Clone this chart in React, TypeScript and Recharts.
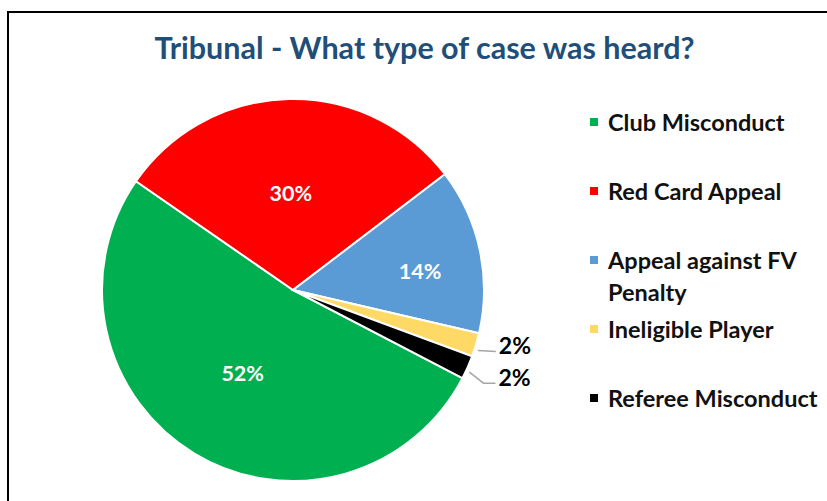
import React from 'react';
import { PieChart, Pie, Cell, Legend } from 'recharts';

const categories = ['Club Misconduct', 'Red Card Appeal', 'Appeal against FV Penalty', 'Ineligible Player', 'Referee Misconduct'];
const caseCounts = [26, 15, 7, 1, 1];
const sliceColors = ['#00B050', '#FF0000', '#5B9BD5', '#FFD966', '#000000'];
const titleText = 'Tribunal - What type of case was heard?';

const data = categories.map((name, i) => ({ name, value: caseCounts[i] }));

const RADIAN = Math.PI / 180;
const FONT = 'Lato, "Open Sans", sans-serif';

const renderLabel = (p: any) => {
  const { cx, cy, midAngle, outerRadius, percent, index } = p;
  const txt = `${Math.round(percent * 100)}%`;
  const c = Math.cos(-midAngle * RADIAN);
  const s = Math.sin(-midAngle * RADIAN);
  if (percent > 0.05) {
    const f = index === 2 ? 0.68 : 0.51;
    const x = cx + outerRadius * f * c;
    const y = cy + outerRadius * f * s + (index === 2 ? 8 : 0);
    return (
      <text x={x} y={y} fill="#fff" textAnchor="middle" dominantBaseline="central" fontFamily={FONT} fontWeight={700} fontSize={21.5}>
        {txt}
      </text>
    );
  }
  const x0 = cx + (outerRadius + 2) * c;
  const y0 = cy + (outerRadius + 2) * s;
  let pts: [number, number][];
  if (index === 3) {
    pts = [[x0, y0 + 5], [x0 + 18, y0 + 6]];
  } else {
    pts = [[x0, y0 + 4], [x0 + 14, y0 + 15], [x0 + 26, y0 + 15]];
  }
  const last = pts[pts.length - 1];
  return (
    <g>
      <polyline points={pts.map((q) => q.join(',')).join(' ')} fill="none" stroke="#A6A6A6" strokeWidth={1.5} />
      <text x={last[0] + 3} y={last[1] - 6} fill="#000" textAnchor="start" dominantBaseline="central" fontFamily={FONT} fontWeight={700} fontSize={23}>
        {txt}
      </text>
    </g>
  );
};

const renderLegend = () => (
  <div style={{ fontFamily: FONT }}>
    {categories.map((name, i) => (
      <div key={name} style={{ position: 'relative', height: 69 }}>
        <div style={{ position: 'absolute', left: 0, top: 12, width: 8, height: 8, background: sliceColors[i] }} />
        <div style={{ position: 'absolute', left: 18, top: 0, width: 222, fontSize: 23.5, fontWeight: 700, lineHeight: '32px', color: '#111', whiteSpace: 'normal' }}>
          {name}
        </div>
      </div>
    ))}
  </div>
);

export default function App() {
  return (
    <div style={{ position: 'absolute', left: 0, top: 0, width: 827, height: 501, background: '#fff', overflow: 'hidden' }}>
      <div style={{ position: 'absolute', left: 7, top: 11, width: 840, height: 520, borderTop: '2px solid #000', borderLeft: '2px solid #000' }} />
      <svg style={{ position: 'absolute', left: 0, top: 0 }} width={827} height={80}>
        <text x={424.5} y={59} textAnchor="middle" fontFamily={FONT} fontWeight={700} fontSize={30.5} fill="#1F4E79">
          {titleText}
        </text>
      </svg>
      <div style={{ position: 'absolute', left: 0, top: 0 }}>
        <PieChart width={827} height={501} margin={{ top: 0, right: 0, bottom: 0, left: 0 }}>
          <Pie
            data={data}
            dataKey="value"
            nameKey="name"
            cx={293}
            cy={290}
            outerRadius={191}
            startAngle={-27.5}
            endAngle={-387.5}
            stroke="#fff"
            strokeWidth={2}
            label={renderLabel}
            labelLine={false}
            isAnimationActive={false}
          >
            {data.map((d, i) => (
              <Cell key={d.name} fill={sliceColors[i]} />
            ))}
          </Pie>
          <Legend
            layout="vertical"
            verticalAlign="top"
            align="right"
            content={renderLegend}
            wrapperStyle={{ left: 590, top: 106, width: 240 }}
          />
        </PieChart>
      </div>
    </div>
  );
}
